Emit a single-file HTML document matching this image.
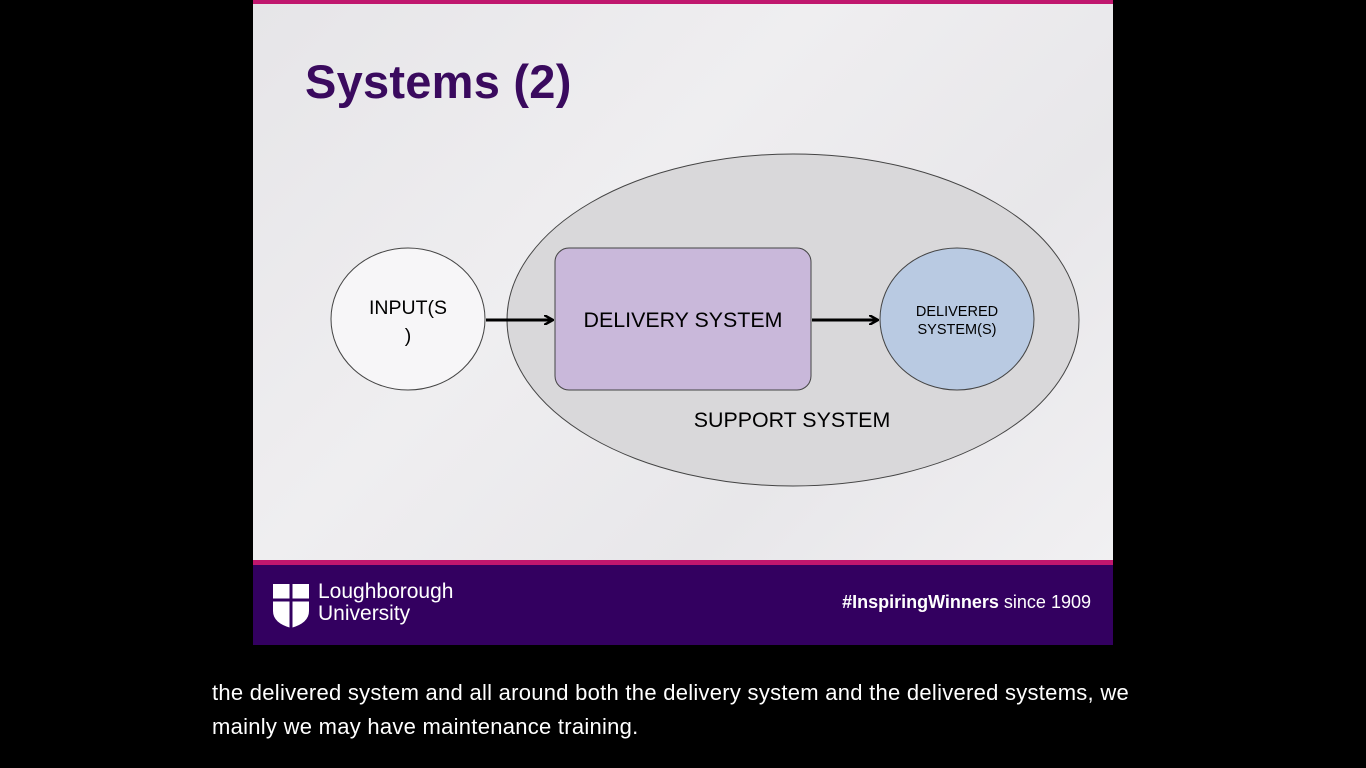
<!DOCTYPE html>
<html><head><style>
html,body{margin:0;padding:0;background:#000;width:1366px;height:768px;overflow:hidden;font-family:"Liberation Sans",sans-serif;}
.slide{position:absolute;left:253px;top:0;width:860px;height:562px;background:linear-gradient(135deg,#e6e5e8 0%,#efeef0 40%,#e8e7ea 70%,#f1f0f2 100%);}
.topbar{position:absolute;left:253px;top:0;width:860px;height:4px;background:#c0176e;}
.pinkline{position:absolute;left:253px;top:560px;width:860px;height:5px;background:#c0176e;}
.footer{position:absolute;left:253px;top:565px;width:860px;height:80px;background:#330060;}
h1{position:absolute;left:305px;top:54px;margin:0;font-size:47px;letter-spacing:0.25px;font-weight:bold;color:#3a0a5e;}
.cap{position:absolute;left:212px;top:676px;color:#fff;font-size:22px;letter-spacing:0.27px;line-height:34px;font-family:"Liberation Sans",sans-serif;}
</style></head><body>
<div class="slide"></div>
<div class="topbar"></div>
<h1>Systems (2)</h1>
<svg style="position:absolute;left:0;top:0" width="1366" height="768">
<defs><marker id="a" markerWidth="10" markerHeight="10" refX="8" refY="5" orient="auto" markerUnits="userSpaceOnUse"><path d="M0,0 L9,5 L0,10" fill="none" stroke="#000" stroke-width="2.5"/></marker></defs>
<ellipse cx="793" cy="320" rx="286" ry="166" fill="#d9d8da" stroke="#444" stroke-width="1"/>
<ellipse cx="408" cy="319" rx="77" ry="71" fill="#f7f6f8" stroke="#444"/>
<ellipse cx="957" cy="319" rx="77" ry="71" fill="#b9cae2" stroke="#444"/>
<rect x="555" y="248" width="256" height="142" rx="14" fill="#c9b8da" stroke="#444"/>
<line x1="486" y1="320" x2="552" y2="320" stroke="#000" stroke-width="3" marker-end="url(#a)"/>
<line x1="812" y1="320" x2="877" y2="320" stroke="#000" stroke-width="3" marker-end="url(#a)"/>
<text x="408" y="314" font-size="19.5" text-anchor="middle" font-family="Liberation Sans">INPUT(S</text>
<text x="408" y="342" font-size="19.5" text-anchor="middle" font-family="Liberation Sans">)</text>
<text x="683" y="327" font-size="21.4" text-anchor="middle" font-family="Liberation Sans">DELIVERY SYSTEM</text>
<text x="957" y="316" font-size="14.5" text-anchor="middle" font-family="Liberation Sans">DELIVERED</text>
<text x="957" y="334" font-size="14.5" text-anchor="middle" font-family="Liberation Sans">SYSTEM(S)</text>
<text x="792" y="427" font-size="21.4" text-anchor="middle" font-family="Liberation Sans">SUPPORT SYSTEM</text>
</svg>
<div class="pinkline"></div>
<div class="footer">
<svg style="position:absolute;left:19px;top:18px" width="38" height="46"><path d="M1,1 H37 V28 Q37,40 19,45 Q1,40 1,28 Z" fill="#fff"/><line x1="19" y1="1" x2="19" y2="45" stroke="#330060" stroke-width="3"/><line x1="1" y1="17" x2="37" y2="17" stroke="#330060" stroke-width="3"/></svg>
<div style="position:absolute;left:65px;top:16px;color:#fff;font-size:21px;line-height:22px;">Loughborough<br>University</div>
<div style="position:absolute;right:22px;top:27px;color:#fff;font-size:18px;"><b>#InspiringWinners</b> since 1909</div>
</div>
<div class="cap">the delivered system and all around both the delivery system and the delivered systems, we<br>mainly we may have maintenance training.</div>
</body></html>
